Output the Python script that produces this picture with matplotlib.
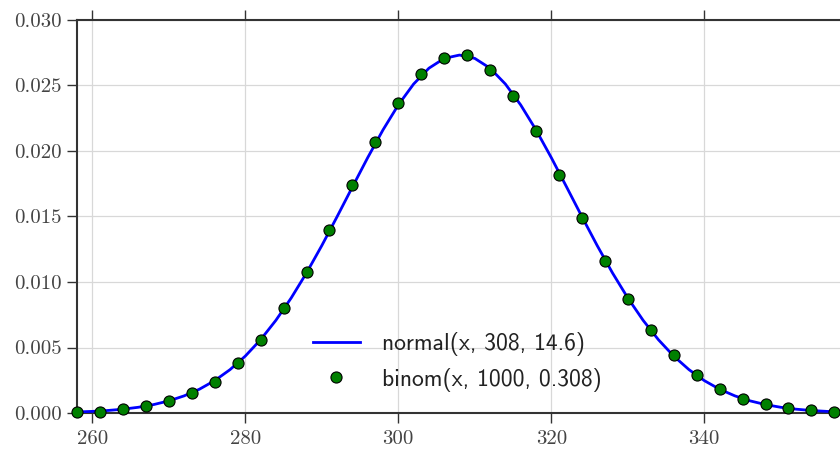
import matplotlib
matplotlib.use("Agg")
import matplotlib.pyplot as plt

# binomial points (every 3)
binom_x = [258, 261, 264, 267, 270, 273, 276, 279, 282, 285, 288, 291,
           294, 297, 300, 303, 306, 309, 312, 315, 318, 321, 324, 327,
           330, 333, 336, 339, 342, 345, 348, 351, 354, 357]
binom_y = [0.0001, 0.0001, 0.0003, 0.0005, 0.0009, 0.0015, 0.0024, 0.0038,
           0.0056, 0.0080, 0.0108, 0.0140, 0.0174, 0.0207, 0.0237, 0.0259,
           0.0271, 0.0273, 0.0262, 0.0242, 0.0215, 0.0182, 0.0149, 0.0116,
           0.0087, 0.0063, 0.0044, 0.0029, 0.0018, 0.0011, 0.0007, 0.0004,
           0.0002, 0.0001]

# normal curve, every 2
norm_x = list(range(258, 359, 2))
norm_y = [0.000078, 0.000123, 0.000191, 0.000291, 0.000436, 0.000641,
          0.000924, 0.001307, 0.001815, 0.002473, 0.003309, 0.004345,
          0.005596, 0.007077, 0.008783, 0.010692, 0.012780, 0.014990,
          0.017252, 0.019493, 0.021611, 0.023515, 0.025111, 0.026319,
          0.027069, 0.027324,
          0.027069, 0.026319, 0.025111, 0.023515, 0.021611, 0.019493,
          0.017252, 0.014990, 0.012780, 0.010692, 0.008783, 0.007077,
          0.005596, 0.004345, 0.003309, 0.002473, 0.001815, 0.001307,
          0.000924, 0.000641, 0.000436, 0.000291, 0.000191, 0.000123,
          0.000078]

label_line = "normal(x, 308, 14.6)"
label_pts = "binom(x, 1000, 0.308)"

fig = plt.figure(figsize=(8.4, 4.49), dpi=100)
ax = fig.add_axes([77 / 840, 36 / 449, 765 / 840, 393 / 449])

ax.plot(norm_x, norm_y, color="blue", lw=2, label=label_line, zorder=3)
ax.plot(binom_x, binom_y, "o", color="green", mec="black", mew=0.8,
        ms=8, label=label_pts, zorder=4, clip_on=False)

ax.set_xlim(258, 358)
ax.set_ylim(0, 0.030)
ax.set_xticks([260, 280, 300, 320, 340])
ax.set_yticks([0.0, 0.005, 0.010, 0.015, 0.020, 0.025, 0.030])
ax.set_yticklabels(["0.000", "0.005", "0.010", "0.015", "0.020",
                    "0.025", "0.030"])
ax.grid(True, color="#d8d8d8", lw=0.9)
ax.set_axisbelow(True)

for s in ax.spines.values():
    s.set_color("#333333")
    s.set_linewidth(1.5)

ax.tick_params(axis="x", which="both", direction="out", top=True,
               length=7, width=1, color="#333333", pad=5)
ax.tick_params(axis="y", direction="out", right=False, length=7,
               width=1, color="#333333", pad=4)
for lab in ax.get_xticklabels() + ax.get_yticklabels():
    lab.set_fontfamily("cmr10")
    lab.set_fontsize(15)
    lab.set_color("#444444")

leg = ax.legend(loc="lower center", bbox_to_anchor=(0.497, 0.0),
                frameon=False, prop={"family": "cmss10", "size": 17},
                handlelength=2.0, handletextpad=0.95, borderaxespad=0.5,
                labelspacing=0.5)
for t in leg.get_texts():
    t.set_color("#222222")

fig.savefig("out.png", dpi=100)
